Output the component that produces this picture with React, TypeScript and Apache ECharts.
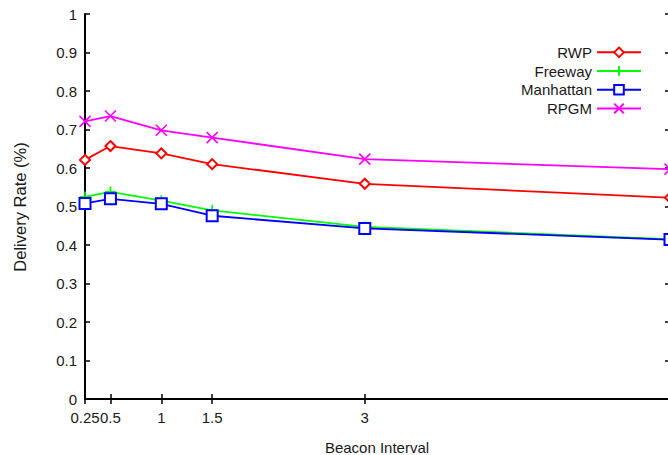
import React, { useEffect, useRef } from "react";
import * as echarts from "echarts";

const xValues = [0.25, 0.5, 1, 1.5, 3, 6];
const rwp = [0.621, 0.657, 0.638, 0.61, 0.559, 0.523];
const freeway = [0.525, 0.538, 0.515, 0.49, 0.447, 0.415];
const manhattan = [0.508, 0.52, 0.507, 0.476, 0.443, 0.414];
const rpgm = [0.721, 0.735, 0.698, 0.679, 0.623, 0.597];
const xTicks = [0.25, 0.5, 1, 1.5, 3];
const seriesNames = ["RWP", "Freeway", "Manhattan", "RPGM"];

const FONT = '"Liberation Sans", Arial, sans-serif';
const TEXT = "#1a1a1a";

const pairs = (ys: number[]) => xValues.map((x, i) => [x, ys[i]]);

export default function App() {
  const ref = useRef<HTMLDivElement>(null);
  useEffect(() => {
    if (!ref.current) return;
    const chart = echarts.init(ref.current, null, { renderer: "svg" });
    const mk = (
      name: string,
      ys: number[],
      color: string,
      symbol: string,
      size: number
    ) => ({
      name,
      type: "line",
      data: pairs(ys),
      symbol,
      symbolSize: size,
      showAllSymbol: true,
      lineStyle: { color, width: 1.8 },
      itemStyle: { color, borderColor: color, borderWidth: 1.6 },
      emphasis: { disabled: true },
      clip: false,
    });
    chart.setOption({
      animation: false,
      backgroundColor: "#fff",
      textStyle: { fontFamily: FONT },
      grid: { left: 85, right: 2, top: 14, bottom: 56 },
      legend: {
        data: seriesNames,
        orient: "vertical",
        align: "right",
        right: 25,
        top: 38,
        itemWidth: 44,
        itemHeight: 12,
        itemGap: 0,
        textStyle: { fontFamily: FONT, fontSize: 15, color: TEXT, lineHeight: 18.7 },
      },
      xAxis: [
        {
          type: "value",
          min: 0.25,
          max: 6,
          position: "bottom",
          splitLine: { show: false },
          axisLine: { show: true, lineStyle: { color: "#000", width: 2 } },
          axisTick: {
            show: true,
            inside: true,
            length: 5,
            customValues: xTicks,
            lineStyle: { color: "#000", width: 1.5 },
          },
          axisLabel: {
            customValues: xTicks,
            margin: 11,
            fontSize: 15,
            color: TEXT,
            fontFamily: FONT,
          },
        },
        {
          type: "value",
          min: 0.25,
          max: 6,
          position: "top",
          splitLine: { show: false },
          axisLine: { show: true, lineStyle: { color: "#000", width: 2 } },
          axisTick: {
            show: true,
            inside: true,
            length: 5,
            customValues: xTicks,
            lineStyle: { color: "#000", width: 1.5 },
          },
          axisLabel: { show: false },
        },
      ],
      yAxis: [
        {
          type: "value",
          min: 0,
          max: 1,
          interval: 0.1,
          position: "left",
          splitLine: { show: false },
          axisLine: { show: true, lineStyle: { color: "#000", width: 2 } },
          axisTick: { show: true, inside: true, length: 5, lineStyle: { color: "#000", width: 1.5 } },
          axisLabel: { margin: 8, fontSize: 15, color: TEXT, fontFamily: FONT },
        },
        {
          type: "value",
          min: 0,
          max: 1,
          interval: 0.1,
          position: "right",
          splitLine: { show: false },
          axisLine: { show: true, lineStyle: { color: "#000", width: 2 } },
          axisTick: { show: true, inside: true, length: 5, lineStyle: { color: "#000", width: 1.5 } },
          axisLabel: { show: false },
        },
      ],
      graphic: [
        {
          type: "text",
          x: 377,
          y: 447,
          style: {
            text: "Beacon Interval",
            fontSize: 15,
            fontFamily: FONT,
            fill: TEXT,
            textAlign: "center",
            textVerticalAlign: "middle",
          },
        },
        {
          type: "text",
          x: 20,
          y: 207,
          rotation: Math.PI / 2,
          style: {
            text: "Delivery Rate (%)",
            fontSize: 16.5,
            fontFamily: FONT,
            fill: TEXT,
            textAlign: "center",
            textVerticalAlign: "middle",
          },
        },
      ],
      series: [
        mk("RWP", rwp, "#ff0000", "emptyDiamond", 10),
        mk("Freeway", freeway, "#00ff00", "path://M5,0 L5,10 M0,5 L10,5", 11),
        mk("Manhattan", manhattan, "#0000ff", "emptyRect", 11),
        mk("RPGM", rpgm, "#ff00ff", "path://M0,0 L10,10 M10,0 L0,10", 11),
      ],
    });
    return () => chart.dispose();
  }, []);
  return (
    <div style={{ position: "absolute", left: 0, top: 0, width: 668, height: 455, overflow: "hidden", background: "#fff" }}>
      <div ref={ref} style={{ width: 672, height: 455 }} />
    </div>
  );
}
